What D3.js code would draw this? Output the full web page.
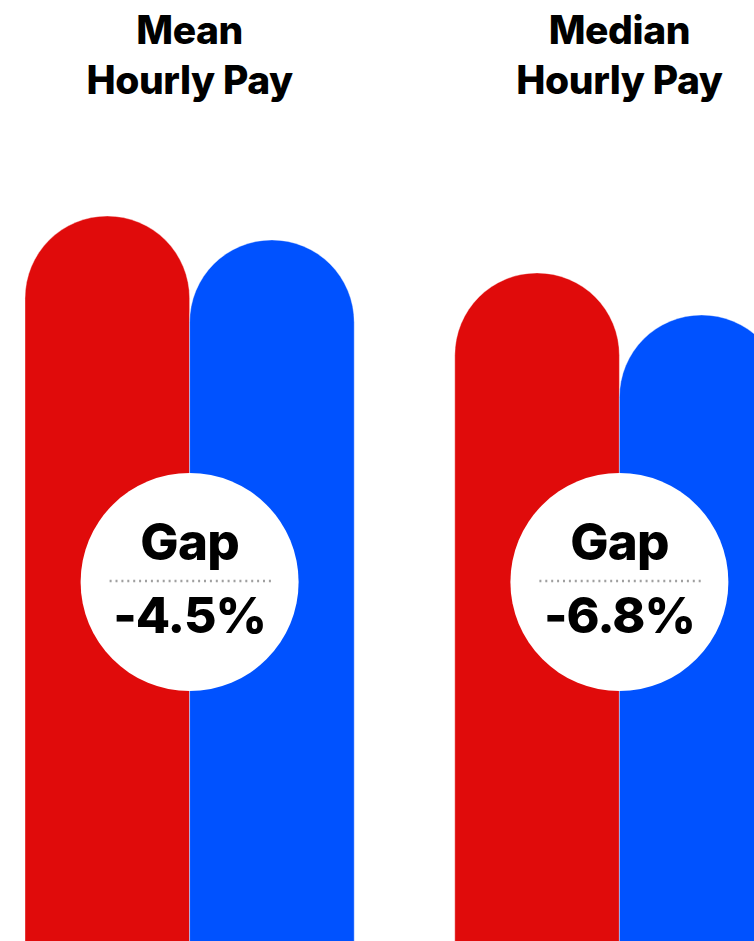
<!DOCTYPE html>
<html>
<head>
<meta charset="utf-8">
<script src="https://cdn.jsdelivr.net/npm/d3@7"></script>
<style>
  html, body { margin: 0; padding: 0; background: #fff; }
  svg { display: block; }
  text { font-family: Inter, "Noto Sans", sans-serif; font-weight: 800; fill: #000; }
</style>
</head>
<body>
<svg id="chart" width="754" height="941"></svg>
<script>
// Pay measures and the two groups compared within each
const measures = ["Mean", "Median"];
const titleLines = [["Mean", "Hourly Pay"], ["Median", "Hourly Pay"]];
const groups = ["A", "B"];
const colors = ["#e00b0b", "#0052ff"];

// Hourly pay (£) per measure, in group order
const meanPay = [20.00, 19.34];
const medianPay = [18.43, 17.27];
const payByMeasure = [meanPay, medianPay];

// Gap shown in the badge of each measure
const gapLabels = ["-4.5%", "-6.8%"];

const W = 754, H = 941;
const svg = d3.select("#chart");

const x0 = d3.scaleBand().domain(measures).range([25, 784]).paddingInner(0.234).paddingOuter(0);
const x1 = d3.scaleBand().domain(groups).range([0, x0.bandwidth()]).padding(0);
const y = d3.scaleLinear().domain([0, 20]).range([H, 216]);

// Bar with a semicircular cap; the value marks the top of the cap
function capsule(x, w, top, bottom) {
  const r = w / 2;
  const p = d3.path();
  p.moveTo(x, bottom);
  p.lineTo(x, top + r);
  p.arc(x + r, top + r, r, Math.PI, 0);
  p.lineTo(x + w, bottom);
  p.closePath();
  return p.toString();
}

const g = svg.selectAll("g.measure")
  .data(measures)
  .join("g")
  .attr("class", "measure")
  .attr("transform", d => `translate(${x0(d)},0)`);

g.selectAll("path.bar")
  .data((d, i) => payByMeasure[i].map((v, j) => ({ group: groups[j], value: v, color: colors[j] })))
  .join("path")
  .attr("class", "bar")
  .attr("d", d => capsule(x1(d.group), x1.bandwidth(), y(d.value), H + 10))
  .attr("fill", d => d.color)
  .attr("stroke", "rgba(255,255,255,0.55)")
  .attr("stroke-width", 0.7);

// Titles
g.each(function(d, i) {
  const cx = x1.bandwidth();
  const t = d3.select(this).append("text")
    .attr("text-anchor", "middle")
    .attr("font-size", 39)
    .attr("letter-spacing", -0.4);
  titleLines[i].forEach((line, k) => {
    t.append("tspan").attr("x", cx).attr("y", 44 + k * 50).text(line);
  });
});

// Gap badge
const badgeY = 582, badgeR = 109;
g.each(function(d, i) {
  const cx = x1.bandwidth();
  const b = d3.select(this).append("g").attr("transform", `translate(${cx},${badgeY})`);
  b.append("circle").attr("r", badgeR).attr("fill", "#fff");
  b.append("line")
    .attr("x1", -80).attr("x2", 84).attr("y1", -1).attr("y2", -1)
    .attr("stroke", "#a0a0a0").attr("stroke-width", 2.4)
    .attr("stroke-dasharray", "2 3.9").attr("stroke-linecap", "butt");
  b.append("text").attr("text-anchor", "middle").attr("y", -22)
    .attr("font-size", 51).attr("letter-spacing", -0.8).text("Gap");
  b.append("text").attr("text-anchor", "middle").attr("y", 51)
    .attr("font-size", 50).attr("letter-spacing", -1).text(gapLabels[i]);
});
</script>
</body>
</html>
